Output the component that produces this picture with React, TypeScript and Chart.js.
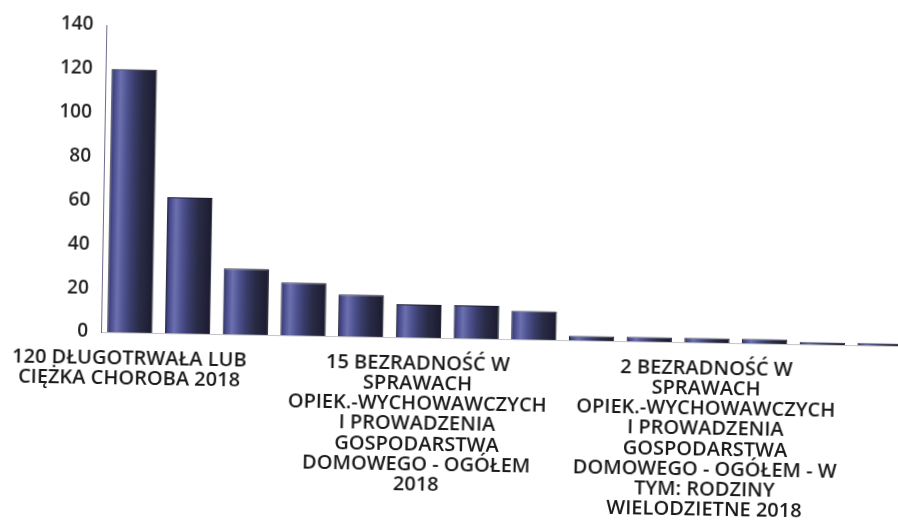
import React, { useEffect, useRef } from 'react';
import { Chart, registerables } from 'chart.js';

Chart.register(...registerables);

// Category labels (only every fifth label is printed in the source chart)
const categories: (string | string[])[] = [
  ['120 DŁUGOTRWAŁA LUB', 'CIĘŻKA CHOROBA 2018'],
  '',
  '',
  '',
  '',
  ['15 BEZRADNOŚĆ W', 'SPRAWACH', 'OPIEK.-WYCHOWAWCZYCH', 'I PROWADZENIA', 'GOSPODARSTWA', 'DOMOWEGO - OGÓŁEM', '2018'],
  '',
  '',
  '',
  '',
  ['2 BEZRADNOŚĆ W', 'SPRAWACH', 'OPIEK.-WYCHOWAWCZYCH', 'I PROWADZENIA', 'GOSPODARSTWA', 'DOMOWEGO - OGÓŁEM - W', 'TYM: RODZINY', 'WIELODZIETNE 2018'],
  '',
  '',
  '',
];

const values: number[] = [120, 62, 30, 24, 19, 15, 15, 13, 2, 2, 2, 2, 1, 1];

const yMin = 0;
const yMax = 140;
const yStep = 20;

const BAR_FRACTION = 0.785;

export default function App() {
  const canvasRef = useRef<HTMLCanvasElement | null>(null);

  useEffect(() => {
    const canvas = canvasRef.current;
    if (!canvas) return;

    const barFill = (ctx: any) => {
      const chart = ctx.chart;
      const xs = chart.scales && chart.scales.x;
      if (!xs || ctx.type !== 'data') return '#3a3c66';
      const center = xs.getPixelForValue(ctx.dataIndex);
      const half = ((xs.width / values.length) * BAR_FRACTION) / 2;
      if (!isFinite(center) || !isFinite(half) || half <= 0) return '#3a3c66';
      const g = chart.ctx.createLinearGradient(center - half, 0, center + half, 0);
      g.addColorStop(0, '#23244a');
      g.addColorStop(0.06, '#44488a');
      g.addColorStop(0.2, '#6c70ae');
      g.addColorStop(0.34, '#4f5492');
      g.addColorStop(0.5, '#3a3d6c');
      g.addColorStop(0.7, '#292b45');
      g.addColorStop(0.88, '#212239');
      g.addColorStop(1, '#191a2b');
      return g;
    };

    const chart = new Chart(canvas, {
      type: 'bar',
      data: {
        labels: categories,
        datasets: [
          {
            data: values,
            backgroundColor: barFill,
            borderColor: '#1c1d30',
            borderWidth: 1,
            categoryPercentage: 1,
            barPercentage: BAR_FRACTION,
          },
        ],
      },
      options: {
        responsive: false,
        animation: false,
        layout: { padding: { top: 25, right: 6, bottom: 0, left: 0 } },
        plugins: {
          legend: { display: false },
          tooltip: { enabled: false },
          title: { display: false },
        },
        scales: {
          x: {
            afterFit: (s: any) => {
              s.height = 189;
              s.paddingLeft = 0;
              s.paddingRight = 0;
            },
            grid: { display: false, drawTicks: false },
            border: { display: true, color: '#c4c4c4', width: 1 },
            ticks: {
              autoSkip: false,
              maxRotation: 0,
              minRotation: 0,
              padding: 16,
              color: '#1a1a1a',
              font: { family: '"Open Sans", sans-serif', size: 20, weight: '600', lineHeight: 1.01 },
            },
          },
          y: {
            min: yMin,
            max: yMax,
            afterFit: (s: any) => {
              s.width = 101;
              s.paddingTop = 0;
              s.paddingBottom = 0;
            },
            grid: { display: false, drawTicks: false },
            border: { display: true, color: '#6f6b8c', width: 1 },
            ticks: {
              stepSize: yStep,
              padding: 13,
              color: '#222222',
              font: { family: '"Open Sans", sans-serif', size: 19, weight: '600', lineHeight: 1 },
            },
          },
        },
      },
    });

    return () => chart.destroy();
  }, []);

  return (
    <div
      style={{
        position: 'fixed',
        left: 0,
        top: 0,
        width: '898px',
        height: '521px',
        overflow: 'hidden',
        background: '#ffffff',
      }}
    >
      <div
        style={{
          width: '915px',
          height: '521px',
          transform: 'rotate(1deg)',
          transformOrigin: '100px 332px',
        }}
      >
        <canvas ref={canvasRef} width={915} height={521} />
      </div>
    </div>
  );
}
